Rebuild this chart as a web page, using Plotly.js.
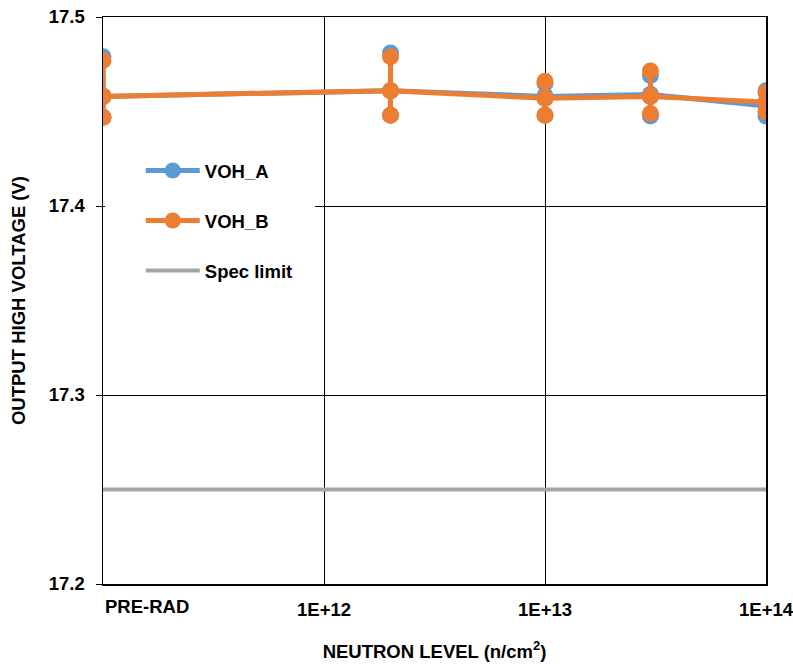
<!DOCTYPE html>
<html>
<head>
<meta charset="utf-8">
<script src="https://cdn.plot.ly/plotly-3.0.1.min.js"></script>
<style>html,body{margin:0;padding:0;background:#fff;}#chart{width:793px;height:664px;}</style>
</head>
<body>
<div id="chart"></div>
<script>
// Neutron levels (PRE-RAD plotted at 1e11 on the log axis)
const levels = [1e11, 2e12, 1e13, 3e13, 1e14];
const xTickVals = [1e11, 1e12, 1e13, 1e14];
const xTickLabels = ['PRE-RAD', '1E+12', '1E+13', '1E+14'];

const vohA_mean = [17.458, 17.461, 17.458, 17.459, 17.453];
const vohA_max  = [17.479, 17.481, 17.465, 17.469, 17.461];
const vohA_min  = [17.447, 17.448, 17.448, 17.4476, 17.4476];

const vohB_mean = [17.458, 17.461, 17.457, 17.458, 17.455];
const vohB_max  = [17.477, 17.479, 17.466, 17.4714, 17.460];
const vohB_min  = [17.447, 17.448, 17.448, 17.449, 17.450];

const specLimit = 17.25;
const yTickVals = [17.2, 17.3, 17.4, 17.5];

const BLUE = '#5B9BD5', ORANGE = '#ED7D31', GRAY = '#A5A5A5';
const FONT = 'Liberation Sans, Arial, sans-serif';
const FS = 18.5;

function rangeSegments(mn, mean, mx) {
  const xs = [], ys = [];
  levels.forEach((lv, i) => {
    xs.push(lv, lv, lv, null);
    ys.push(mx[i], mean[i], mn[i], null);
  });
  return {xs, ys};
}

const rA = rangeSegments(vohA_min, vohA_mean, vohA_max);
const rB = rangeSegments(vohB_min, vohB_mean, vohB_max);

const traces = [
  {x: rA.xs, y: rA.ys, mode: 'lines+markers', connectgaps: false, showlegend: false,
   line: {color: BLUE, width: 5}, marker: {color: BLUE, size: 17}, legendgroup: 'a', hoverinfo: 'skip'},
  {x: levels, y: vohA_mean, name: 'VOH_A', mode: 'lines+markers', legendgroup: 'a',
   line: {color: BLUE, width: 5}, marker: {color: BLUE, size: 17}},
  {x: rB.xs, y: rB.ys, mode: 'lines+markers', connectgaps: false, showlegend: false,
   line: {color: ORANGE, width: 5}, marker: {color: ORANGE, size: 17}, legendgroup: 'b', hoverinfo: 'skip'},
  {x: levels, y: vohB_mean, name: 'VOH_B', mode: 'lines+markers', legendgroup: 'b',
   line: {color: ORANGE, width: 5}, marker: {color: ORANGE, size: 17}},
  {x: [xTickVals[0], xTickVals[xTickVals.length - 1]], y: [specLimit, specLimit], name: 'Spec limit',
   mode: 'lines', legendgroup: 'c', line: {color: GRAY, width: 4}}
];

const boldFont = {family: FONT, size: FS, color: '#000', weight: 'bold'};

const layout = {
  width: 793, height: 664,
  margin: {l: 103, r: 27, t: 17, b: 80},
  paper_bgcolor: '#fff', plot_bgcolor: '#fff',
  font: {family: FONT, size: FS, color: '#000'},
  showlegend: true,
  legend: {
    x: 0.057, xanchor: 'left', y: 0.762, yanchor: 'top',
    bgcolor: 'rgba(0,0,0,0)', borderwidth: 0,
    traceorder: 'grouped', tracegroupgap: 23, itemwidth: 54,
    font: boldFont
  },
  xaxis: {
    type: 'log', range: [11, 14],
    tickvals: xTickVals.slice(1), ticktext: xTickLabels.slice(1),
    ticklabeloverflow: 'allow',
    showgrid: true, gridcolor: '#000', gridwidth: 1,
    showline: true, linecolor: '#000', linewidth: 1.5, mirror: true,
    ticks: '', ticklabelstandoff: 8, zeroline: false,
    tickfont: boldFont,
    title: {text: 'NEUTRON LEVEL (n/cm<sup>2</sup>)', standoff: 26, font: boldFont}
  },
  yaxis: {
    range: [17.2, 17.5], tickvals: yTickVals, ticktext: yTickVals.map(v => v.toFixed(1)),
    showgrid: true, gridcolor: '#000', gridwidth: 1,
    showline: true, linecolor: '#000', linewidth: 1.5, mirror: true,
    ticks: 'outside', ticklen: 6, tickcolor: '#000', ticklabelstandoff: 7, zeroline: false,
    tickfont: boldFont,
    title: {text: 'OUTPUT HIGH VOLTAGE (V)', standoff: 18, font: boldFont}
  },
  shapes: [
    {type: 'rect', layer: 'above', xref: 'paper', yref: 'y', x0: 0.003, x1: 0.32,
     y0: yTickVals[2] - 0.003, y1: yTickVals[2] + 0.003, fillcolor: '#fff', line: {width: 0}}
  ],
  annotations: [
    {text: xTickLabels[0], xref: 'x', yref: 'paper', x: Math.log10(xTickVals[0]), y: 0,
     xanchor: 'left', yanchor: 'top', yshift: -10, showarrow: false, font: boldFont}
  ]
};

Plotly.newPlot('chart', traces, layout, {displayModeBar: false, staticPlot: true});
</script>
</body>
</html>
